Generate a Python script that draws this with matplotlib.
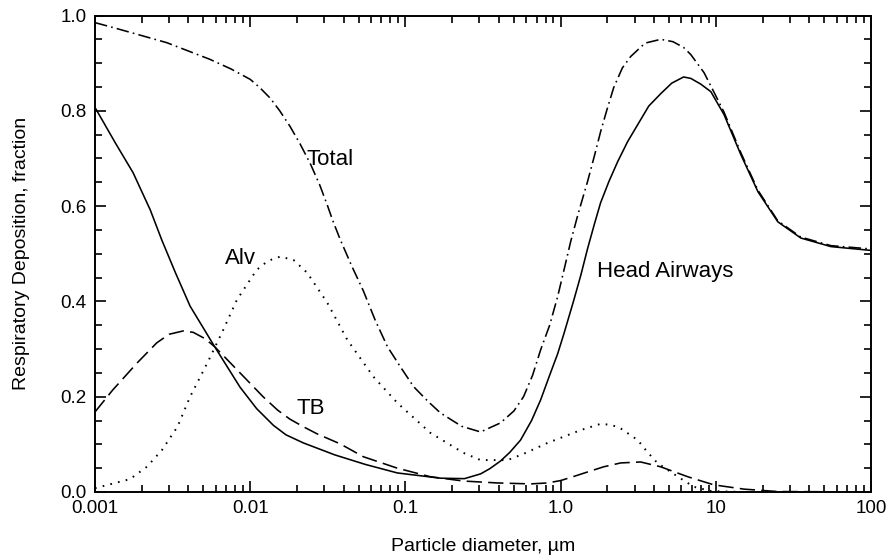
import matplotlib
matplotlib.use("Agg")
import matplotlib.pyplot as plt
from matplotlib.ticker import FixedLocator, MultipleLocator, NullFormatter

# values
head_x = [0.001, 0.00135, 0.00176, 0.00227, 0.0027, 0.0033, 0.0041, 0.0059, 0.0086,
          0.011, 0.0141, 0.017, 0.022, 0.027, 0.035, 0.055, 0.0887, 0.168, 0.24,
          0.305, 0.35, 0.41, 0.47, 0.552, 0.65, 0.743, 0.85, 0.957, 1.05, 1.21,
          1.35, 1.49, 1.65, 1.81, 2.05, 2.33, 2.7, 3.14, 3.7, 4.42, 5.2, 6.2, 6.9,
          8.0, 9.3, 11.3, 14.5, 18.7, 25.1, 35.3, 55.2, 100]
head_y = [0.807, 0.733, 0.67, 0.592, 0.528, 0.46, 0.39, 0.305, 0.22,
          0.175, 0.14, 0.12, 0.103, 0.092, 0.078, 0.058, 0.040, 0.029, 0.028,
          0.038, 0.049, 0.065, 0.083, 0.109, 0.15, 0.193, 0.245, 0.29, 0.332, 0.40,
          0.455, 0.51, 0.562, 0.607, 0.652, 0.693, 0.735, 0.771, 0.81, 0.836, 0.858, 0.871, 0.868,
          0.856, 0.84, 0.792, 0.708, 0.63, 0.567, 0.533, 0.515, 0.507]

total_x = [0.001, 0.0013, 0.0029, 0.0055, 0.0075, 0.01, 0.0115, 0.0135, 0.0155,
           0.018, 0.021, 0.0244, 0.028, 0.0314, 0.034, 0.038, 0.045, 0.0536, 0.064,
           0.0766, 0.094, 0.113, 0.14, 0.168, 0.23, 0.305, 0.41, 0.5, 0.577, 0.66,
           0.743, 0.85, 0.957, 1.05, 1.16, 1.3, 1.49, 1.65, 1.81, 2.0, 2.2, 2.5,
           2.83, 3.5, 4.42, 5.3, 6.2, 6.9, 8.4, 9.7, 11.3, 14.5, 18.7, 25.1, 35.3,
           55.2, 100]
total_y = [0.985, 0.975, 0.943, 0.908, 0.888, 0.866, 0.849, 0.826, 0.80,
           0.768, 0.73, 0.689, 0.645, 0.602, 0.57, 0.53, 0.475, 0.422, 0.36,
           0.305, 0.26, 0.221, 0.19, 0.166, 0.138, 0.126, 0.145, 0.17, 0.20, 0.245,
           0.298, 0.35, 0.41, 0.465, 0.525, 0.585, 0.651, 0.705, 0.756, 0.805, 0.849, 0.89,
           0.914, 0.942, 0.95, 0.945, 0.933, 0.918, 0.88, 0.84, 0.797, 0.712, 0.633, 0.569, 0.535,
           0.517, 0.51]

alv_x = [0.001, 0.00168, 0.00216, 0.0027, 0.0034, 0.0041, 0.0053, 0.0067, 0.0082,
         0.011, 0.013, 0.0156, 0.019, 0.0233, 0.0314, 0.0423, 0.0622, 0.0887, 0.145,
         0.237, 0.305, 0.455, 0.577, 0.824, 1.35, 1.81, 2.1, 2.4, 3.14, 3.6, 4.2,
         5.7, 7.2, 9.3, 15, 100]
alv_y = [0.008, 0.027, 0.053, 0.088, 0.137, 0.20, 0.271, 0.34, 0.403,
         0.466, 0.485, 0.494, 0.487, 0.46, 0.397, 0.319, 0.242, 0.187, 0.124,
         0.082, 0.067, 0.067, 0.08, 0.103, 0.13, 0.143, 0.141, 0.135, 0.109, 0.085, 0.061,
         0.032, 0.011, 0.002, 0.0, 0.0]

tb_x = [0.001, 0.0013, 0.00187, 0.0025, 0.003, 0.0037, 0.0043, 0.0051, 0.0059,
        0.0086, 0.0121, 0.015, 0.018, 0.022, 0.027, 0.038, 0.0536, 0.0887, 0.145,
        0.237, 0.305, 0.39, 0.64, 0.824, 1.0, 1.2, 1.49, 1.9, 2.44, 3.28, 4.4, 6.6,
        9.7, 15.2, 25, 100]
tb_y = [0.168, 0.214, 0.271, 0.313, 0.331, 0.338, 0.335, 0.322, 0.305,
        0.25, 0.20, 0.172, 0.153, 0.137, 0.122, 0.101, 0.074, 0.05, 0.032,
        0.023, 0.021, 0.019, 0.017, 0.019, 0.024, 0.032, 0.042, 0.053, 0.061, 0.063, 0.053, 0.032,
        0.015, 0.006, 0.001, 0.0]

x_ticks = [0.001, 0.01, 0.1, 1.0, 10, 100]
x_tick_labels = ['0.001', '0.01', '0.1', '1.0', '10', '100']
y_ticks = [0.0, 0.2, 0.4, 0.6, 0.8, 1.0]
y_tick_labels = ['0.0', '0.2', '0.4', '0.6', '0.8', '1.0']

plt.rcParams['font.family'] = ['Liberation Sans', 'DejaVu Sans']
plt.rcParams['lines.scale_dashes'] = False

fig = plt.figure(figsize=(8.89, 5.58), dpi=100)
ax = fig.add_axes([95 / 889, 66 / 558, 776 / 889, 476.5 / 558])

ax.plot(head_x, head_y, color='black', lw=1.15, linestyle='-')
ax.plot(total_x, total_y, color='black', lw=1.15, linestyle=(0, (9, 3, 1.2, 3)))
ax.plot(alv_x, alv_y, color='black', lw=1.4, linestyle=(0, (1.2, 4.5)))
ax.plot(tb_x, tb_y, color='black', lw=1.15, linestyle=(0, (11, 4.5)))

ax.set_xscale('log')
ax.set_xlim(0.001, 100)
ax.set_ylim(0, 1.0)

ax.xaxis.set_major_locator(FixedLocator(x_ticks))
ax.set_xticklabels(x_tick_labels)
ax.xaxis.set_minor_locator(FixedLocator(
    [m * 10.0 ** e for e in range(-3, 2) for m in range(2, 10)]))
ax.xaxis.set_minor_formatter(NullFormatter())
ax.set_yticks(y_ticks)
ax.set_yticklabels(y_tick_labels)
ax.yaxis.set_minor_locator(MultipleLocator(0.05))

ax.tick_params(which='both', direction='in', top=True, right=True, labelsize=13.5, width=1.2)
ax.tick_params(which='major', length=8, pad=6)
ax.tick_params(which='minor', length=5)
for s in ax.spines.values():
    s.set_linewidth(1.4)

ax.text(0.0328, 0.697, 'Total', fontsize=16, ha='center', va='center')
ax.text(0.0086, 0.49, 'Alv', fontsize=16, ha='center', va='center')
ax.text(0.0244, 0.176, 'TB', fontsize=16, ha='center', va='center')
ax.text(1.71, 0.462, 'Head Airways', fontsize=16, ha='left', va='center')

ax.set_xlabel('Particle diameter, µm', fontsize=14, labelpad=15)
ax.set_ylabel('Respiratory Deposition, fraction', fontsize=14, labelpad=22)

fig.savefig('out.png', dpi=100)
